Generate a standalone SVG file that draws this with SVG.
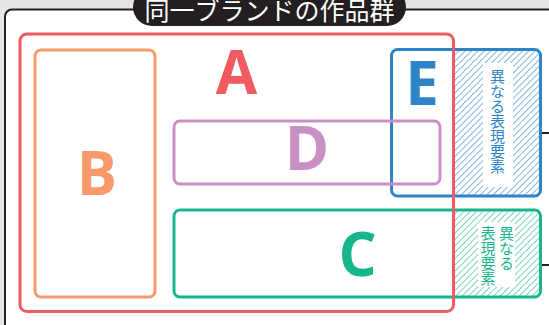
<svg xmlns="http://www.w3.org/2000/svg" width="549" height="325" viewBox="0 0 549 325">
<defs>
<style>
.box{fill:none;stroke-width:3}
.big{font-family:"Open Sans","Noto Sans",sans-serif;font-weight:700;font-size:60px;text-anchor:middle}
.vt{font-family:"Noto Sans CJK JP",sans-serif;font-size:15px;writing-mode:vertical-rl;text-anchor:start}
</style>
<pattern id="hatchB" patternUnits="userSpaceOnUse" width="4.5" height="4.5" patternTransform="rotate(45)">
<line x1="0.5" y1="0" x2="0.5" y2="4.5" stroke="#4f98d2" stroke-width="0.7"/>
</pattern>
<pattern id="hatchG" patternUnits="userSpaceOnUse" width="4.5" height="4.5" patternTransform="rotate(45)">
<line x1="0.5" y1="0" x2="0.5" y2="4.5" stroke="#3fc29d" stroke-width="0.7"/>
</pattern>
</defs>
<rect x="0" y="0" width="549" height="325" fill="#e6e6e6"/>
<g id="frame">
<rect x="5" y="9.5" width="600" height="400" rx="7" fill="#fff" stroke="#231f20" stroke-width="2"/>
</g>
<g id="title">
<rect x="133" y="-12" width="273" height="38" rx="19" fill="#231f20"/>
<text x="269.5" y="19.5" font-family="Noto Sans CJK JP, sans-serif" font-size="25" fill="#fff" text-anchor="middle">同一ブランドの作品群</text>
</g>
<g id="connectors" stroke="#231f20" stroke-width="2">
<line x1="541" y1="133" x2="549" y2="133"/>
<line x1="541" y1="265" x2="549" y2="265"/>
</g>
<g id="nodeB">
<rect class="box" x="35" y="50" width="120" height="247" rx="6" stroke="#f79a6b"/>
<text class="big" x="97" y="195" fill="#f79a6b">B</text>
</g>
<g id="nodeE">
<rect x="454.5" y="50" width="85" height="145" fill="url(#hatchB)"/>
<rect x="483" y="63" width="30" height="124" fill="#fff"/>
<rect class="box" x="391.5" y="49.5" width="149" height="146.5" rx="6" stroke="#2d84c8"/>
<text class="big" x="422" y="105" fill="#2d84c8">E</text>
<text class="vt" x="497.5" y="69" fill="#2d84c8">異なる表現要素</text>
</g>
<g id="nodeD">
<rect class="box" x="174" y="121" width="266" height="63" rx="6" stroke="#c990c3"/>
<text class="big" x="307" y="170" fill="#c990c3">D</text>
</g>
<g id="nodeC">
<rect x="454.5" y="211.5" width="85" height="85" fill="url(#hatchG)"/>
<rect x="478" y="222" width="37" height="65" fill="#fff"/>
<rect class="box" x="174" y="210" width="366.5" height="87" rx="6" stroke="#17b58c"/>
<text class="big" x="357.5" y="276" fill="#17b58c">C</text>
<text class="vt" x="506.5" y="226" fill="#17b58c">異なる</text>
<text class="vt" x="488" y="226" fill="#17b58c">表現要素</text>
</g>
<g id="nodeA">
<rect class="box" x="20" y="34" width="433.5" height="277.5" rx="7" stroke="#ef5b61"/>
<text class="big" x="236.5" y="94" fill="#ef5b61">A</text>
</g>
</svg>
